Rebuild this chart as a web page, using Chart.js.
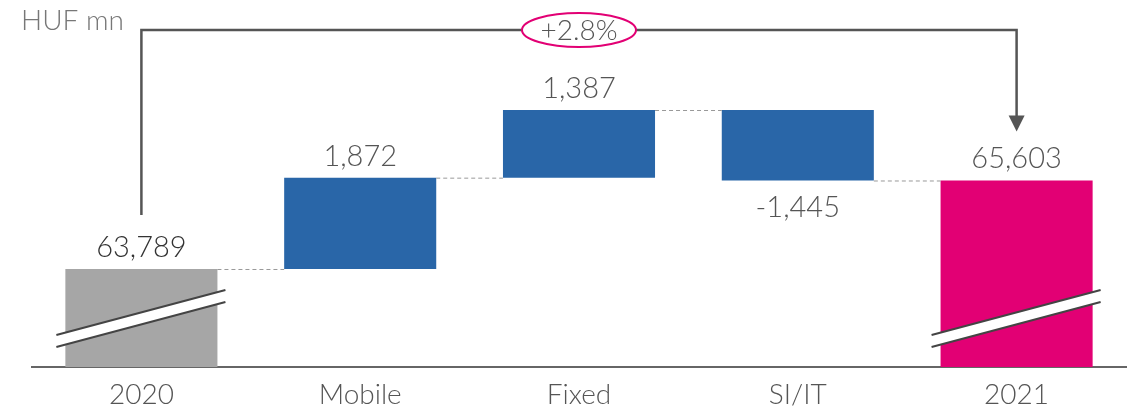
<!DOCTYPE html>
<html>
<head>
<meta charset="utf-8">
<script src="https://cdn.jsdelivr.net/npm/chart.js@4.4.1/dist/chart.umd.min.js"></script>
<style>
  html, body { margin: 0; padding: 0; background: #fff; }
  #wrap { width: 1130px; height: 412px; }
</style>
</head>
<body>
<div id="wrap"><canvas id="grafico"></canvas></div>
<script>
// Dados do gráfico (waterfall)
const categorias = ['2020', 'Mobile', 'Fixed', 'SI/IT', '2021'];
const valores = [63789, 1872, 1387, -1445, 65603];
const rotulos = ['63,789', '1,872', '1,387', '-1,445', '65,603'];
const tipos = ['total', 'delta', 'delta', 'delta', 'total'];
const variacaoTexto = '+2.8%';
const unidade = 'HUF mn';

// Eixo quebrado: valor mínimo e máximo do eixo y
const eixoMin = 61780;
const eixoMax = 69303;

const cores = { total0: '#A6A6A6', delta: '#2966A8', total1: '#E20074' };
const fonte = 'Lato, "Open Sans", sans-serif';

// Monta os intervalos flutuantes [início, fim]
let acumulado = 0;
const intervalos = valores.map((v, i) => {
    if (tipos[i] === 'total') {
        acumulado = v;
        return [eixoMin, v];
    }
    const ini = acumulado;
    acumulado += v;
    return [ini, acumulado];
});
const coresBarras = valores.map((v, i) => i === 0 ? cores.total0 : (tipos[i] === 'total' ? cores.total1 : cores.delta));

// Plugin com conectores, quebras, rótulos e a seta de variação
const decoracoes = {
    id: 'decoracoes',
    afterDatasetsDraw(chart) {
        const ctx = chart.ctx;
        const y = chart.scales.y;
        const barras = chart.getDatasetMeta(0).data;
        const topo = i => y.getPixelForValue(Math.max(...intervalos[i]));
        const fundo = i => y.getPixelForValue(Math.min(...intervalos[i]));
        ctx.save();

        // conectores tracejados
        ctx.strokeStyle = '#999';
        ctx.lineWidth = 1;
        ctx.setLineDash([4, 3]);
        for (let i = 0; i < barras.length - 1; i++) {
            const nivel = y.getPixelForValue(intervalos[i][1]);
            const b0 = barras[i], b1 = barras[i + 1];
            ctx.beginPath();
            ctx.moveTo(b0.x + b0.width / 2, nivel + 0.5);
            ctx.lineTo(b1.x - b1.width / 2, nivel + 0.5);
            ctx.stroke();
        }
        ctx.setLineDash([]);

        // marcas de quebra nas barras de total
        barras.forEach((b, i) => {
            if (tipos[i] !== 'total') return;
            const base = b.base;
            const x0 = b.x - b.width / 2 - 9, x1 = b.x + b.width / 2 + 8;
            ctx.fillStyle = '#fff';
            ctx.beginPath();
            ctx.moveTo(x0, base - 32);
            ctx.lineTo(x1, base - 77);
            ctx.lineTo(x1, base - 65);
            ctx.lineTo(x0, base - 20);
            ctx.closePath();
            ctx.fill();
            ctx.strokeStyle = '#444';
            ctx.lineWidth = 2;
            ctx.beginPath();
            ctx.moveTo(x0, base - 32); ctx.lineTo(x1, base - 77);
            ctx.moveTo(x0, base - 20); ctx.lineTo(x1, base - 65);
            ctx.stroke();
        });

        // rótulos de valores
        ctx.font = '300 29px ' + fonte;
        ctx.textAlign = 'center';
        ctx.textBaseline = 'alphabetic';
        barras.forEach((b, i) => {
            ctx.fillStyle = i === 0 ? '#333' : '#555';
            if (valores[i] < 0) {
                ctx.fillText(rotulos[i], b.x, fundo(i) + 37);
            } else {
                ctx.fillText(rotulos[i], b.x, topo(i) - 12);
            }
        });

        // seta de variação 2020 -> 2021
        const xa = barras[0].x, xb = barras[barras.length - 1].x;
        const yLinha = 30;
        const yIni = topo(0) - 54;
        const yPonta = topo(barras.length - 1) - 49;
        ctx.strokeStyle = '#555';
        ctx.lineWidth = 2.5;
        ctx.beginPath();
        ctx.moveTo(xa, yIni);
        ctx.lineTo(xa, yLinha);
        ctx.lineTo(xb, yLinha);
        ctx.lineTo(xb, yPonta - 14);
        ctx.stroke();
        ctx.fillStyle = '#555';
        ctx.beginPath();
        ctx.moveTo(xb - 8, yPonta - 16);
        ctx.lineTo(xb + 8, yPonta - 16);
        ctx.lineTo(xb, yPonta);
        ctx.closePath();
        ctx.fill();

        // elipse com a variação
        const xm = (xa + xb) / 2;
        ctx.fillStyle = '#fff';
        ctx.strokeStyle = '#E20074';
        ctx.lineWidth = 2;
        ctx.beginPath();
        ctx.ellipse(xm, yLinha, 57, 17, 0, 0, Math.PI * 2);
        ctx.fill();
        ctx.stroke();
        ctx.fillStyle = '#555';
        ctx.font = '300 28px ' + fonte;
        ctx.textBaseline = 'middle';
        ctx.fillText(variacaoTexto, xm, yLinha + 1);

        // unidade
        ctx.textAlign = 'left';
        ctx.fillStyle = '#777';
        ctx.font = '300 28px ' + fonte;
        ctx.fillText(unidade, 21, 21);

        ctx.restore();
    }
};

const graficoWaterfall = new Chart(document.getElementById('grafico').getContext('2d'), {
    type: 'bar',
    data: {
        labels: categorias,
        datasets: [{
            data: intervalos,
            backgroundColor: coresBarras,
            borderWidth: 0,
            borderSkipped: false,
            categoryPercentage: 1,
            barPercentage: 0.695
        }]
    },
    options: {
        responsive: true,
        maintainAspectRatio: false,
        animation: false,
        layout: { padding: { left: 32, right: 4, top: 0, bottom: 0 } },
        plugins: { legend: { display: false }, tooltip: { enabled: false } },
        scales: {
            x: {
                grid: { display: false, drawTicks: false },
                border: { display: true, color: '#666', width: 2 },
                ticks: { color: '#555', padding: 11, font: { family: fonte, size: 28, weight: 300 } },
                afterFit(scale) { scale.height = 45; }
            },
            y: {
                display: false,
                min: eixoMin,
                max: eixoMax
            }
        }
    },
    plugins: [decoracoes]
});
</script>
</body>
</html>
